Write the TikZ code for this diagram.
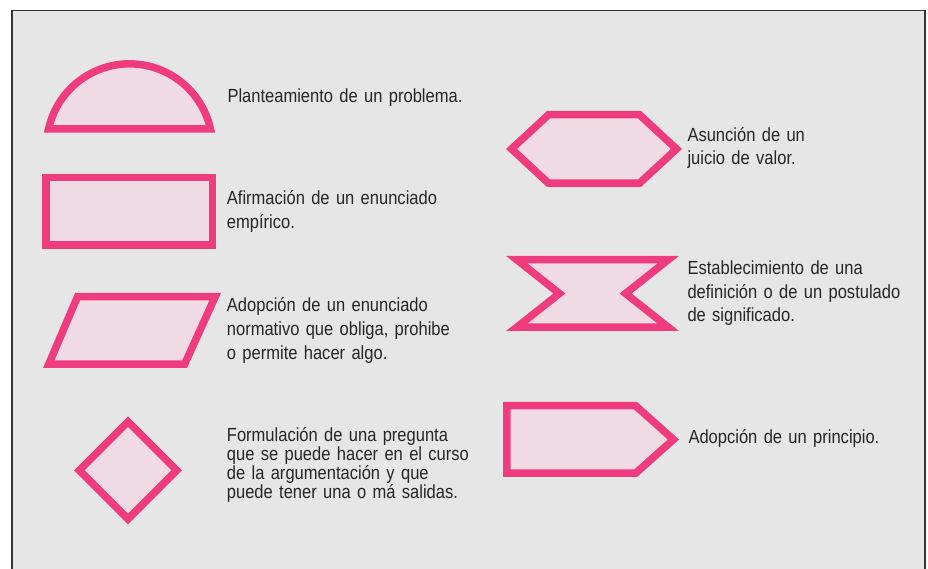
\documentclass[tikz,border=0pt]{standalone}
\usepackage{fontspec}
\setmainfont[FakeStretch=0.87]{Liberation Sans}
\definecolor{bg}{HTML}{E6E6E6}
\definecolor{pinkline}{HTML}{EE3C7F}
\definecolor{pinkfill}{HTML}{F0DBE4}
\definecolor{txt}{HTML}{262626}
\definecolor{framecol}{HTML}{333333}
\begin{document}
\begin{tikzpicture}[x=1pt,y=1pt,
  sym/.style={draw=pinkline, fill=pinkfill, line width=7.5pt, miter limit=10, line join=miter},
  lbl/.style={anchor=base west, inner sep=0pt, text width=245pt, align=left, text=txt,
    font=\fontsize{19}{24}\selectfont},
]
\useasboundingbox (0,0) rectangle (928,569);
\fill[white] (0,0) rectangle (928,569);
\fill[bg] (12,0) rectangle (925,558.3);
\draw[framecol, line width=1.5pt] (12,0) -- (12,558.3) -- (925,558.3) -- (925,0);

% left column symbols
\draw[sym] (48.6,440) arc[start angle=167.7, end angle=12.3, radius=82.8] -- cycle;
\draw[sym] (45.75,391.25) rectangle (212.25,323.75);
\draw[sym] (77.5,272.25) -- (215.2,272.25) -- (184.6,204.75) -- (48.7,204.75) -- cycle;
\draw[sym] (128,98.7) ++(-48.7,0) -- ++(48.7,48.7) -- ++(48.7,-48.7) -- ++(-48.7,-48.7) -- cycle;

% right column symbols
\draw[sym] (511.5,420) -- (548.5,454.25) -- (639.5,454.25) -- (676.5,420) -- (639.5,385.75) -- (548.5,385.75) -- cycle;
\draw[sym] (516.8,309.25) -- (668.2,309.25) -- (625.6,275.5) -- (668.2,241.75) -- (516.8,241.75) -- (559.4,275.5) -- cycle;
\draw[sym] (506.75,163.25) -- (635.6,163.25) -- (673.4,129.5) -- (635.6,95.75) -- (506.75,95.75) -- cycle;

% labels
\node[lbl] (t1) at (227.3,466.3) {Planteamiento de un problema.};
\node[lbl] (t2) at (226.7,364) {Afirmación de un enunciado\\empírico.};
\node[lbl] (t3) at (226.7,257.3) {Adopción de un enunciado\\normativo que obliga, prohibe\\o permite hacer algo.};
\node[lbl, font=\fontsize{19}{16.7}\selectfont] (t4) at (226.7,127.3) {Formulación de una pregunta\\que se puede hacer en el curso\\de la argumentación y que\\puede tener una o má salidas.};
\node[lbl, font=\fontsize{19}{23}\selectfont] (t5) at (687.3,427.3) {Asunción de un\\juicio de valor.};
\node[lbl, font=\fontsize{19}{23.5}\selectfont] (t6) at (687.3,294) {Establecimiento de una\\definición o de un postulado\\de significado.};
\node[lbl] (t7) at (688.3,125.7) {Adopción de un principio.};
\end{tikzpicture}
\end{document}
